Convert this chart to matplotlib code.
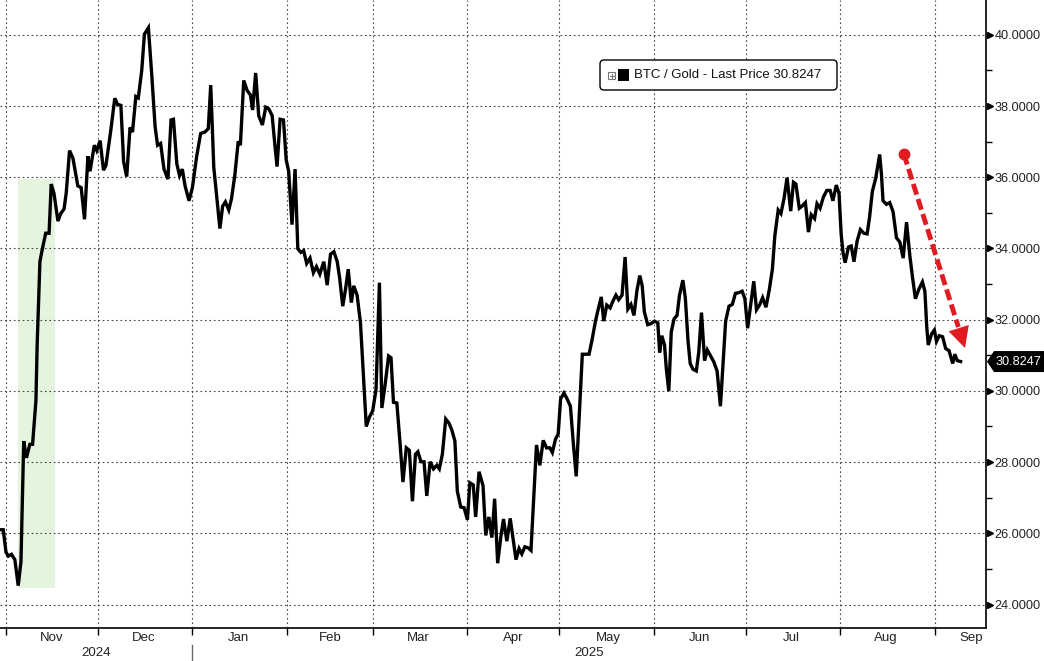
import datetime as dt
import matplotlib
matplotlib.use('Agg')
import matplotlib.pyplot as plt
import matplotlib.dates as mdates
import matplotlib.transforms as mtransforms
from matplotlib.patches import Rectangle, Polygon, FancyBboxPatch
from matplotlib.lines import Line2D
from matplotlib.ticker import FormatStrFormatter

plt.rcParams['font.family'] = ['Liberation Sans', 'DejaVu Sans']

# data: days after 2024-11-01 and BTC/Gold ratio
start = dt.datetime(2024, 11, 1)
days = [
    -2.0, -0.9, 0.0, 0.8, 1.8, 2.9, 4.0, 4.9, 5.8, 6.7, 7.8, 8.7, 9.8, 10.2, 11.1, 11.9,
    13.0, 14.1, 14.8, 15.7, 17.0, 17.9, 19.0, 19.7, 20.8, 21.9, 23.5, 24.6, 25.7, 26.8,
    27.5, 28.9, 29.7, 30.8, 31.9, 32.7, 34.3, 35.6, 36.5, 37.6, 38.5, 39.5, 40.6, 41.4,
    42.5, 43.3, 44.4, 45.3, 46.6, 47.7, 48.8, 49.6, 50.6, 51.7,
    53.0, 54.0, 54.8, 55.9, 56.8, 57.7, 58.6, 59.9, 61.0, 62.4, 63.7, 65.1, 66.2, 67.0,
    68.0, 69.1, 70.0, 70.9, 71.8, 72.9, 73.8, 74.9, 76.0, 76.7, 77.8, 78.9, 80.0, 80.7,
    81.7, 82.7, 83.9, 85.0, 86.0, 87.1, 88.0, 88.7, 89.7, 90.8, 91.7, 92.5, 93.6, 94.6,
    95.5, 96.5, 97.4, 98.4, 99.5, 100.6, 101.6, 102.7,
    104.0, 105.1, 106.2, 107.3, 108.4, 109.2, 110.2, 111.1, 112.0, 113.0, 113.8, 114.9,
    116.0, 116.8, 117.9, 118.9, 120.0, 121.1, 122.2, 123.0, 124.1, 125.2, 126.0, 126.8,
    127.9, 129.0, 129.9, 131.0, 132.0, 133.0, 134.0, 134.8, 135.8, 136.8, 137.7, 138.8,
    139.9, 141.0, 141.8, 142.8, 143.9, 145.0, 145.9, 146.9, 147.7, 148.8, 149.9, 151.0,
    151.8, 152.9, 153.7, 154.8,
    156.1, 157.0, 158.0, 159.0, 159.9, 160.9, 161.9, 162.8, 163.9, 165.0, 165.8, 166.9,
    167.9, 168.8, 169.8, 170.9, 171.8, 173.6, 174.7, 175.8, 176.9, 178.0, 178.8, 179.8,
    180.7, 181.5, 182.6, 183.6, 184.7, 185.6, 186.6, 188.6, 189.7, 190.8, 191.8, 192.9,
    193.9, 194.8, 195.6, 196.6, 197.7, 198.6, 199.6, 200.5, 201.6, 202.6, 203.5, 204.5,
    205.5, 206.5, 207.4,
    208.2, 208.9, 210.0, 211.1, 212.2, 213.3, 213.9, 214.6, 215.5, 216.1, 216.9, 217.7,
    218.6, 219.6, 220.4, 221.5, 222.3, 223.2, 223.9, 224.8, 225.9, 226.7, 227.6, 228.6,
    229.5, 230.6, 231.6, 232.7, 233.4, 233.8, 234.7, 235.5, 236.6, 237.7, 238.7, 239.8,
    240.9, 241.8, 242.7, 243.7, 244.7, 245.6, 246.7, 247.6, 248.7, 249.8, 250.8, 251.6,
    252.7, 253.6, 254.6, 255.6, 256.8, 257.7, 258.5, 259.6,
    260.5, 261.6, 262.6, 263.5, 264.6, 265.4, 266.4, 267.5, 268.6, 269.7, 270.6, 271.7,
    272.6, 273.3, 273.9, 274.6, 275.7, 276.6, 277.5, 278.5, 279.6, 280.7, 281.8, 282.6,
    283.5, 284.6, 285.9, 286.5, 287.0, 288.1, 289.2, 290.3, 291.4, 292.5, 293.6, 294.7,
    295.8, 296.7, 297.6, 298.7, 299.9, 300.7, 301.3, 301.8, 302.9, 303.8, 304.5, 305.4,
    306.5, 307.5, 308.6, 309.1, 309.8, 310.5, 311.3, 312.4,
]
ratio = [
    26.10, 26.10, 25.47, 25.36, 25.41, 25.26, 24.53, 25.20, 28.59, 28.12, 28.50, 28.50,
    29.73, 31.29, 33.63, 33.99, 34.43, 34.43, 35.81, 35.55, 34.77, 34.98, 35.11, 35.55,
    36.75, 36.54, 35.76, 35.71, 34.82, 36.59, 36.17, 36.90, 36.75, 37.03, 36.20, 36.33,
    37.32, 38.22, 38.05, 38.02, 36.43, 36.02, 37.40, 37.27, 38.27, 38.23, 38.98, 40.02,
    40.20, 38.88, 37.42, 36.90, 36.95, 36.23,
    35.95, 37.61, 37.63, 36.38, 36.05, 36.23, 35.76, 35.34, 35.71, 36.59, 37.23, 37.27,
    37.37, 38.59, 36.28, 35.34, 34.56, 35.19, 35.31, 35.08, 35.40, 36.07, 37.01, 36.90,
    38.72, 38.44, 38.31, 37.89, 38.93, 37.73, 37.47, 37.97, 37.92, 37.73, 36.90, 36.30,
    37.63, 37.61, 36.49, 36.17, 34.67, 36.23, 33.99, 33.89, 33.94, 33.58, 33.73, 33.32,
    33.49, 33.28,
    33.63, 32.97, 33.84, 33.91, 33.63, 33.16, 32.38, 32.85, 33.42, 32.48, 32.95, 32.69,
    31.91, 30.67, 29.00, 29.26, 29.44, 30.04, 33.04, 29.52, 30.20, 30.98, 30.93, 29.68,
    29.66, 28.48, 27.44, 28.40, 28.33, 26.90, 28.22, 28.29, 28.01, 28.01, 27.05, 28.01,
    27.81, 27.91, 27.81, 28.22, 29.21, 29.09, 28.90, 28.59, 27.18, 26.74, 26.72, 26.38,
    27.42, 27.36, 26.46, 27.73,
    27.34, 25.94, 26.46, 25.88, 26.97, 25.16, 25.88, 26.40, 25.78, 26.42, 25.94, 25.26,
    25.57, 25.42, 25.62, 25.59, 25.52, 28.48, 27.91, 28.61, 28.40, 28.40, 28.27, 28.64,
    28.79, 29.78, 29.94, 29.78, 29.57, 28.59, 27.60, 31.03, 31.03, 31.03, 31.44, 31.96,
    32.33, 32.64, 31.96, 32.41, 32.33, 32.52, 32.69, 32.56, 32.69, 33.76, 32.30, 32.43,
    32.12, 32.83, 33.24,
    32.95, 32.22, 31.86, 31.89, 31.96, 31.91, 31.08, 31.55, 31.29, 30.61, 29.99, 31.65,
    32.02, 32.12, 32.69, 33.11, 32.62, 31.39, 30.77, 30.61, 30.56, 31.08, 32.20, 30.85,
    31.15, 30.98, 30.82, 30.56, 29.94, 29.57, 30.82, 31.96, 32.38, 32.43, 32.74, 32.76,
    32.80, 32.59, 31.76, 32.43, 33.08, 32.28, 32.43, 32.62, 32.35, 32.85, 33.42, 34.36,
    35.08, 34.98, 35.40, 35.99, 35.05, 35.86, 35.81, 35.13,
    35.19, 35.29, 34.46, 34.95, 34.84, 35.26, 35.13, 35.45, 35.63, 35.63, 35.34, 35.78,
    35.55, 34.41, 33.89, 33.60, 34.04, 34.07, 33.63, 34.20, 34.53, 34.43, 34.41, 34.88,
    35.60, 35.97, 36.64, 36.07, 35.34, 35.24, 35.29, 35.03, 34.30, 34.18, 33.73, 34.74,
    33.78, 33.16, 32.59, 32.85, 33.06, 32.80, 31.81, 31.29, 31.60, 31.71, 31.39, 31.55,
    31.52, 31.19, 31.13, 30.98, 30.77, 31.03, 30.85, 30.8247,
]
last_price = 30.8247
series_name = 'BTC / Gold - Last Price'

highlight_days = (4.0, 16.1)
highlight_values = (24.45, 35.95)
arrow_days = (293.8, 314.1)
arrow_values = (36.66, 31.13)

month_starts = ['2024-11-01', '2024-12-01', '2025-01-01', '2025-02-01', '2025-03-01',
                '2025-04-01', '2025-05-01', '2025-06-01', '2025-07-01', '2025-08-01',
                '2025-09-01']
month_label_dates = ['2024-11-16', '2024-12-16', '2025-01-16', '2025-02-15', '2025-03-16',
                     '2025-04-16', '2025-05-17', '2025-06-16', '2025-07-16', '2025-08-16',
                     '2025-09-13']
month_labels = ['Nov', 'Dec', 'Jan', 'Feb', 'Mar', 'Apr', 'May', 'Jun', 'Jul', 'Aug', 'Sep']
year_labels = ['2024', '2025']
year_start = '2025-01-01'

y_ticks = list(range(24, 41, 2))
y_minor = list(range(25, 40, 2))

W, H = 1044, 661
base = mdates.date2num(start)
x = [base + d for d in days]
red = '#e01b22'

fig = plt.figure(figsize=(W / 100, H / 100), dpi=100)
ax = fig.add_axes([0, 1 - 628 / H, 986 / W, 628 / H])

ax.set_xlim(base - 1.96, base + 320.7)
ax.set_ylim(23.34, 40.98)

# green highlight box
ax.add_patch(Rectangle((base + highlight_days[0], highlight_values[0]),
                       highlight_days[1] - highlight_days[0],
                       highlight_values[1] - highlight_values[0],
                       fc='#e4f4de', ec='none', zorder=0.2))

ax.plot(x, ratio, color='black', lw=2.4, zorder=3, solid_joinstyle='miter')

# red dashed arrow
ax0, ax1 = base + arrow_days[0], base + arrow_days[1]
ay0, ay1 = arrow_values
f = 0.88
ax.plot([ax0, ax0 + f * (ax1 - ax0)], [ay0, ay0 + f * (ay1 - ay0)],
        color=red, lw=3.5, dashes=(2.3, 0.95), zorder=4, solid_capstyle='butt')
ax.plot([ax0], [ay0], 'o', color=red, ms=7.5, zorder=4)
ax.annotate('', xy=(ax1, ay1), xytext=(ax0 + 0.8 * (ax1 - ax0), ay0 + 0.8 * (ay1 - ay0)),
            arrowprops=dict(arrowstyle='-|>,head_length=0.75,head_width=0.38',
                            color=red, lw=0, mutation_scale=20), zorder=4)

# axes styling
for s in ['left', 'top']:
    ax.spines[s].set_visible(False)
for s in ['right', 'bottom']:
    ax.spines[s].set_linewidth(1.2)
    ax.spines[s].set_color('black')

ax.set_axisbelow(True)
ax.set_xticks([mdates.datestr2num(s) for s in month_starts])
ax.set_xticks([mdates.datestr2num(s) for s in month_label_dates], minor=True)
ax.set_xticklabels(month_labels, minor=True)
ax.tick_params(axis='x', which='major', length=5, width=1, direction='out', labelbottom=False)
ax.tick_params(axis='x', which='minor', length=0, pad=3, labelsize=9.5, labelcolor='#222222')

ax.yaxis.tick_right()
ax.set_yticks(y_ticks)
ax.set_yticks(y_minor, minor=True)
ax.yaxis.set_major_formatter(FormatStrFormatter('%.4f'))
ax.tick_params(axis='y', which='major', length=0, pad=6, labelsize=9.2, labelcolor='#222222')
ax.tick_params(axis='y', which='minor', length=4, width=1, direction='out')

ax.grid(True, which='major', color='#444444', linestyle=(0, (1.5, 2.5)), linewidth=0.8)

# triangle markers at the major y ticks
tr = mtransforms.blended_transform_factory(ax.transAxes, ax.transData)
ax.plot([1.0045] * len(y_ticks), y_ticks, linestyle='none', marker='>', ms=5,
        color='black', transform=tr, clip_on=False)

# year labels and separator
trx = mtransforms.blended_transform_factory(ax.transData, ax.transAxes)
xmin, xmax = ax.get_xlim()
ys = mdates.datestr2num(year_start)
ax.text((xmin + ys) / 2, -0.04, year_labels[0], transform=trx, ha='center', va='center',
        fontsize=9.5, color='#222222')
ax.text((ys + xmax) / 2, -0.04, year_labels[1], transform=trx, ha='center', va='center',
        fontsize=9.5, color='#222222')
ax.plot([ys, ys], [-0.027, -0.06], color='#666666', lw=1, transform=trx, clip_on=False)

# legend box (pixel coordinates, origin bottom-left)
ident = mtransforms.IdentityTransform()
fig.add_artist(FancyBboxPatch((600, H - 90), 237, 30, boxstyle='round,pad=0,rounding_size=4',
                              fc='white', ec='black', lw=1, transform=ident))
fig.add_artist(Rectangle((608, H - 79), 7, 7, fc='white', ec='#777777', lw=0.8, transform=ident))
fig.add_artist(Line2D([609.5, 613.5], [H - 75.5, H - 75.5], color='#777777', lw=0.8, transform=ident))
fig.add_artist(Line2D([611.5, 611.5], [H - 77.5, H - 73.5], color='#777777', lw=0.8, transform=ident))
fig.add_artist(Rectangle((618, H - 81), 11, 12, fc='black', ec='none', transform=ident))
fig.text(634 / W, 1 - 75 / H, f'{series_name} {last_price:.4f}', ha='left', va='center',
         fontsize=9.5, color='#111111')

# last price tag on the right axis
yc = ax.transData.transform((0, last_price))[1]
fig.add_artist(Polygon([(987, yc), (994, yc + 10.5), (W, yc + 10.5), (W, yc - 10.5),
                        (994, yc - 10.5)], closed=True, fc='black', ec='none', transform=ident))
fig.text(1018 / W, yc / H, f'{last_price:.4f}', ha='center', va='center', fontsize=9.2,
         color='white')

fig.savefig('out.png', dpi=100)
